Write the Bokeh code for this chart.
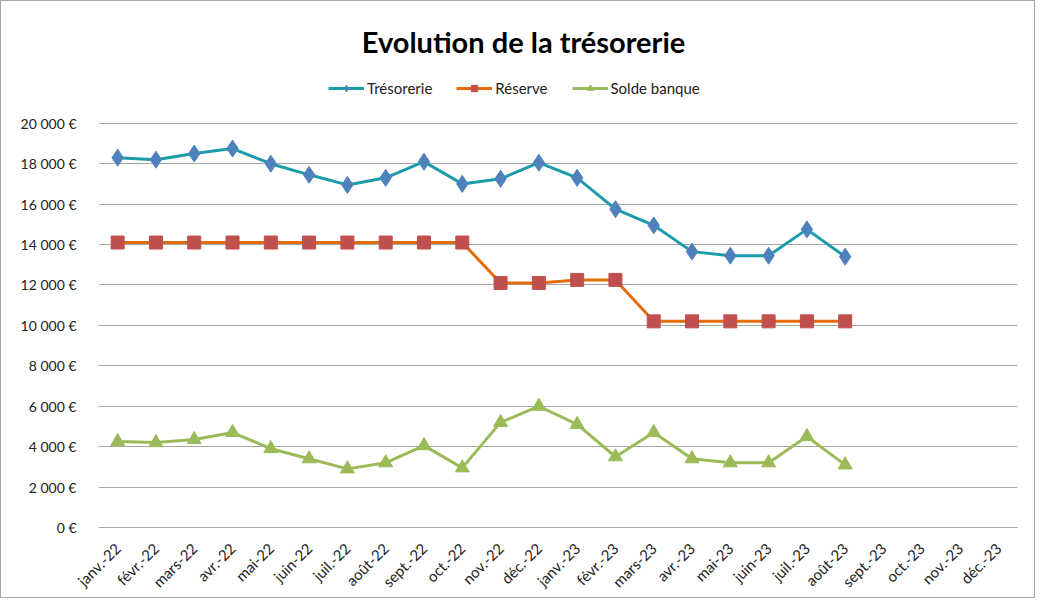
from math import pi
from bokeh.plotting import figure
from bokeh.models import FactorRange, Range1d, Legend, LegendItem, FixedTicker, Label
from bokeh.embed import file_html
from bokeh.resources import INLINE

months = ["janv.-22", "févr.-22", "mars-22", "avr.-22", "mai-22", "juin-22",
          "juil.-22", "août-22", "sept.-22", "oct.-22", "nov.-22", "déc.-22",
          "janv.-23", "févr.-23", "mars-23", "avr.-23", "mai-23", "juin-23",
          "juil.-23", "août-23", "sept.-23", "oct.-23", "nov.-23", "déc.-23"]
tresorerie = [18300, 18200, 18500, 18750, 18000, 17450, 16950, 17300, 18100, 17000,
              17250, 18050, 17300, 15750, 14950, 13650, 13450, 13450, 14750, 13400]
reserve = [14100, 14100, 14100, 14100, 14100, 14100, 14100, 14100, 14100, 14100,
           12100, 12100, 12250, 12250, 10200, 10200, 10200, 10200, 10200, 10200]
solde_banque = [4250, 4200, 4350, 4700, 3900, 3400, 2900, 3200, 4050, 2950,
                5200, 6000, 5100, 3500, 4700, 3400, 3200, 3200, 4500, 3100]
y_ticks = [0, 2000, 4000, 6000, 8000, 10000, 12000, 14000, 16000, 18000, 20000]
y_tick_labels = ["0 €", "2 000 €", "4 000 €", "6 000 €", "8 000 €", "10 000 €",
                 "12 000 €", "14 000 €", "16 000 €", "18 000 €", "20 000 €"]
title_text = "Evolution de la trésorerie"

FONT = "Lato"
x_data = months[:len(tresorerie)]

# frame extends up to the top border so title/legend can sit inside it;
# gridlines/ticks are only drawn for 0..20 000 €
p = figure(width=1035, height=598, output_backend="svg", toolbar_location=None,
           x_range=FactorRange(*months, range_padding=0),
           y_range=Range1d(0, 25580),
           min_border_left=97, min_border_right=19, min_border_top=9, min_border_bottom=71)
p.styles = {"border": "1px solid #a6a6a6"}
p.outline_line_color = None

p.add_layout(Label(x=425, y=486, x_units="screen", y_units="screen", text=title_text,
                   text_align="center", text_baseline="middle", text_font=FONT,
                   text_font_size="29px", text_font_style="bold", text_color="#000000"))

l1 = p.line(x_data, tresorerie, line_color="#1c9bab", line_width=3)
s1 = p.scatter(x_data, tresorerie, marker="diamond", size=17, fill_color="#4f81bd", line_color="#4f81bd")
l2 = p.line(x_data, reserve, line_color="#e46c0a", line_width=3)
s2 = p.scatter(x_data, reserve, marker="square", size=13, fill_color="#c0504d", line_color="#c0504d")
l3 = p.line(x_data, solde_banque, line_color="#9bbb59", line_width=3)
s3 = p.scatter(x_data, solde_banque, marker="triangle", size=14, fill_color="#9bbb59", line_color="#9bbb59")

legend = Legend(items=[LegendItem(label="Trésorerie", renderers=[l1, s1]),
                       LegendItem(label="Réserve", renderers=[l2, s2]),
                       LegendItem(label="Solde banque", renderers=[l3, s3])],
                orientation="horizontal", location=(230, 430),
                spacing=24, label_standoff=3, glyph_width=36, glyph_height=16,
                padding=4, margin=0, border_line_color=None, background_fill_alpha=0,
                label_text_font=FONT, label_text_font_size="15px", label_text_color="#222222")
p.add_layout(legend)

p.yaxis.ticker = FixedTicker(ticks=y_ticks)
p.yaxis.major_label_overrides = dict(zip(y_ticks, y_tick_labels))
p.yaxis.axis_line_color = None
p.yaxis.major_tick_line_color = None
p.yaxis.minor_tick_line_color = None
p.yaxis.major_label_standoff = 16
p.yaxis.major_label_text_font = FONT
p.yaxis.major_label_text_font_size = "14px"
p.yaxis.major_label_text_color = "#222222"

p.xaxis.axis_line_color = "#a6a6a6"
p.xaxis.major_tick_line_color = None
p.xaxis.minor_tick_line_color = None
p.xaxis.major_label_orientation = pi / 4
p.xaxis.major_label_text_font = FONT
p.xaxis.major_label_text_font_size = "15px"
p.xaxis.major_label_text_color = "#222222"
p.xaxis.major_label_standoff = 12

p.xgrid.grid_line_color = None
p.ygrid.ticker = FixedTicker(ticks=y_ticks)
p.ygrid.grid_line_color = "#a6a6a6"
p.ygrid.grid_line_width = 1

open("out.html", "w").write(file_html(p, INLINE))
